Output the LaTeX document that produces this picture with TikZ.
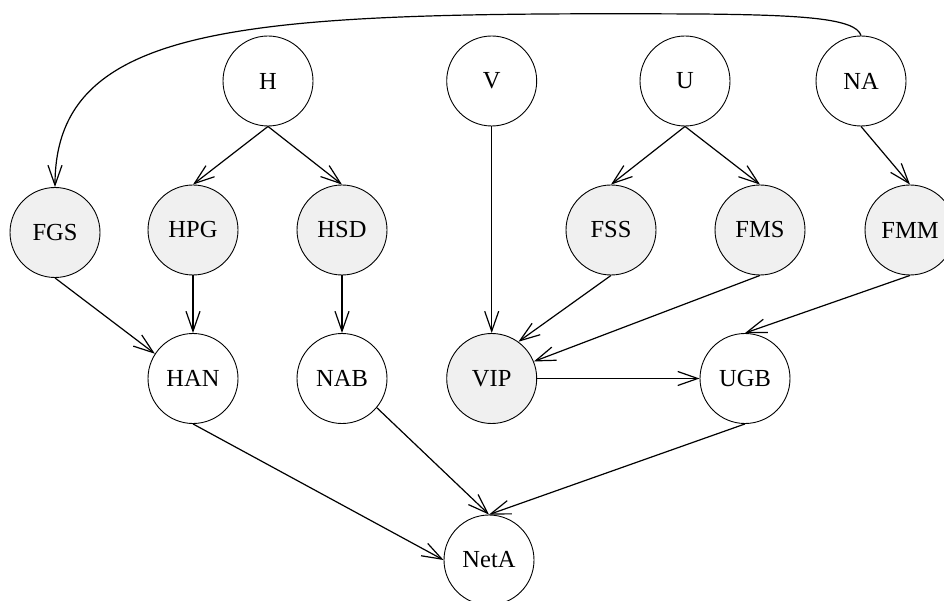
\documentclass[tikz,border=0pt]{standalone}
\usepackage{fontspec}
\setmainfont{Liberation Serif}
\usetikzlibrary{arrows.meta}
\definecolor{obsfill}{RGB}{240,240,240}
\begin{document}
\begin{tikzpicture}[x=1pt,y=-1pt,
  var/.style={circle,draw=black,line width=0.9pt,minimum size=90pt,inner sep=0pt,
    font=\fontsize{24.5}{29}\selectfont},
  obs/.style={var,fill=obsfill},
  edge/.style={line width=1.2pt,-{Straight Barb[length=20pt,width=14pt,line width=1.2pt]}}]
\useasboundingbox (0,0) rectangle (944,601);

% top row
\node[var] (H)  at (268,81)   {H};
\node[var] (V)  at (491.7,81) {V};
\node[var] (U)  at (685,81)   {U};
\node[var] (NA) at (861,81)   {NA};

% observed variables
\node[obs] (FGS) at (55,232.5) {FGS};
\node[obs] (HPG) at (193,230)  {HPG};
\node[obs] (HSD) at (342,230)  {HSD};
\node[obs] (FSS) at (611,230)  {FSS};
\node[obs] (FMS) at (760,230)  {FMS};
\node[obs] (FMM) at (910,230)  {FMM};

% middle row
\node[var] (HAN) at (193,378.5)   {HAN};
\node[var] (NAB) at (342,378.5)   {NAB};
\node[obs] (VIP) at (491.7,378.5) {VIP};
\node[var] (UGB) at (745,378.5)   {UGB};

% sink
\node[var] (NetA) at (489,560) {NetA};

% edges
\draw[edge] (H.south) -- (HPG.north);
\draw[edge] (H.south) -- (HSD.north);
\draw[edge] (U.south) -- (FSS.north);
\draw[edge] (U.south) -- (FMS.north);
\draw[edge] (NA.south) -- (FMM.north);
\draw[edge] (V.south) -- (VIP.north);
\draw[edge] (NA.north) .. controls (856,18) and (800,15) .. (700,14)
  .. controls (250,12) and (55,20) .. (FGS.north);

\draw[edge] (FGS.south) -- (HAN.147);
\draw[edge] (HPG.south) -- (HAN.north);
\draw[edge] (HSD.south) -- (NAB.north);
\draw[edge] (FSS.south) -- (VIP.54);
\draw[edge] (FMS.south) -- (VIP.22);
\draw[edge] (FMM.south) -- (UGB.north);
\draw[edge] (VIP.east) -- (UGB.west);

\draw[edge] (HAN.south) -- (NetA.west);
\draw[edge] (NAB.-40) -- (NetA.north);
\draw[edge] (UGB.south) -- (NetA.north);
\end{tikzpicture}
\end{document}
